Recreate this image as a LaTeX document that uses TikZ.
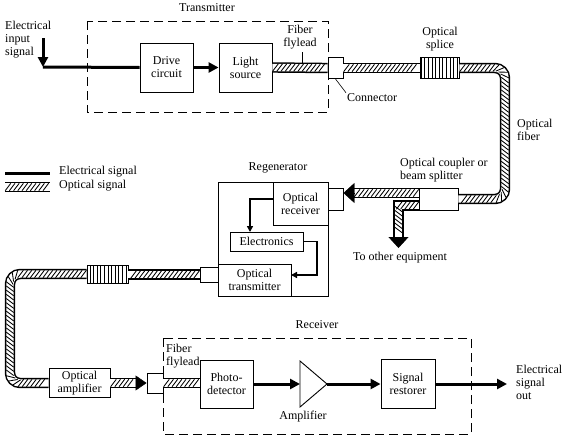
\documentclass[tikz,border=0pt]{standalone}
\usepackage{fontspec}
\setmainfont{Liberation Serif}
\usetikzlibrary{arrows.meta,decorations.markings,patterns.meta}

\begin{document}
\begin{tikzpicture}[x=1pt, y=-1pt,
	every node/.style={font=\fontsize{12}{13}\selectfont, inner sep=1pt},
	box/.style={draw=black, line width=0.9pt, fill=white, align=center},
	txt/.style={align=left, anchor=west},
	group/.style={draw=black, line width=1pt, dash pattern=on 9pt off 5pt},
	eline/.style={draw=black, line width=3pt, -{Triangle[length=10pt,width=10pt]}},
	ewire/.style={draw=black, line width=1.6pt, -{Triangle[length=6pt,width=6pt]}},
	fiber/.style={draw=black, line width=10.4pt, postaction={draw=white, line width=7.4pt},
		postaction={decorate, decoration={markings, mark=between positions 3pt and -3pt step 4.2pt with {\draw[black, line width=0.85pt] (-2.8pt,-3.7pt) -- (2.8pt,3.7pt);}}}},
	ftip/.style={draw=black, line width=0.4pt, -{Triangle[length=11pt,width=20pt]}},
	splice/.style={draw=black, line width=0.9pt, pattern={Lines[angle=90,distance=3.6pt,line width=0.9pt]}}]
	\useasboundingbox (0,0) rectangle (564,439);
	
	\draw[group] (87,21) rectangle (328,112);
	\draw[group] (163,338) rectangle (471,434);
	
	\node[box, minimum width=53pt, minimum height=49pt] (drive) at (166.5,67.5) {Drive\\circuit};
	\node[box, minimum width=53pt, minimum height=49pt] (light) at (245.5,67.5) {Light\\source};
	\node[box, minimum width=15pt, minimum height=21pt] (txconn) at (335.5,68) {};
	\node[splice, minimum width=39pt, minimum height=21pt] (splA) at (439.5,68) {};
	\node[box, minimum width=39pt, minimum height=22pt] (coupler) at (438.5,199) {};
	\node[box, minimum width=16pt, minimum height=22pt] (rxconn) at (335,199) {};
	\node[draw=black, line width=0.8pt, minimum width=110pt, minimum height=114pt] (regen) at (273,239) {};
	\node[box, minimum width=55pt, minimum height=43pt] (orx) at (300.5,203.5) {Optical\\receiver};
	\node[box, minimum width=73pt, minimum height=19pt] (elec) at (266.5,241.5) {Electronics};
	\node[box, minimum width=73pt, minimum height=32pt] (otx) at (254.5,280) {Optical\\transmitter};
	\node[box, minimum width=18pt, minimum height=15pt] (otxconn) at (209,274.5) {};
	\node[splice, minimum width=41pt, minimum height=18pt] (splB) at (107.5,274) {};
	\node[box, minimum width=61pt, minimum height=29pt] (oamp) at (79.5,383) {Optical\\amplifier};
	\node[box, minimum width=16pt, minimum height=20pt] (rxconn2) at (155,383) {};
	\node[box, minimum width=53pt, minimum height=48pt] (pd) at (226.5,384) {Photo-\\detector};
	\node[box, minimum width=54pt, minimum height=49pt] (restorer) at (408,384) {Signal\\restorer};
	
	\node (txlbl) at (207,8) {Transmitter};
	\node[txt] (inlbl) at (4,39.5) {Electrical\\input\\signal};
	\node[align=center] (flyA) at (300,37) {Fiber\\flylead};
	\node[txt] (connlbl) at (346,98) {Connector};
	\node[align=center] (spllbl) at (440,39) {Optical\\splice};
	\node[txt] (fiblbl) at (516,130) {Optical\\fiber};
	\node[txt] (cpllbl) at (399,170) {Optical coupler or\\beam splitter};
	\node (otherlbl) at (400,258) {To other equipment};
	\node[txt] (legElbl) at (58,172) {Electrical signal};
	\node[txt] (legOlbl) at (58,186) {Optical signal};
	\node (regenlbl) at (278,168) {Regenerator};
	\node (rxlbl) at (317,325) {Receiver};
	\node[txt] (flyB) at (165,356.5) {Fiber\\flylead};
	\node (amplbl) at (303,417) {Amplifier};
	\node[txt] (outlbl) at (515,382) {Electrical\\signal\\out};
	
	\coordinate (insig) at (43,38);
	\coordinate (inbend) at (43,67);
	\coordinate (fibturnA) at (505,130);
	\coordinate (cplA) at (419,193);
	\coordinate (tipA) at (354,193);
	\coordinate (cplB) at (419,205.5);
	\coordinate (brturn) at (398.5,205.5);
	\coordinate (brend) at (398.5,237);
	\coordinate (brtip) at (398.5,248);
	\coordinate (orxout) at (273,199);
	\coordinate (elecin) at (250,232);
	\coordinate (regturn) at (317,258);
	\coordinate (otxin) at (291,275);
	\coordinate (fibturnB) at (10,330);
	\coordinate (tipB) at (136,383);
	\coordinate (ampin) at (300,384);
	\coordinate (ampout) at (327,384);
	\coordinate (sigout) at (507,384);
	\coordinate (flyAtop) at (302,52);
	\coordinate (flyAend) at (302,63);
	\coordinate (legE1) at (5,173);
	\coordinate (legE2) at (50,173);
	\coordinate (legO1) at (5,187);
	\coordinate (legO2) at (50,187);
	
	\draw[line width=0.9pt, fill=white] (300,361) -- (ampout) -- (300,407) -- cycle;
	
	\draw[eline, -] (legE1) -- (legE2);
	\draw[eline] (insig) -- (inbend);
	\draw[eline, -] (inbend) -- (drive.west);
	\draw[eline] (drive.east) -- (light.west);
	\draw[eline] (pd.east) -- (ampin);
	\draw[eline] (ampout) -- (restorer.west);
	\draw[eline] (restorer.east) -- (sigout);
	\draw[ewire] (orxout) -| (elecin);
	\draw[ewire] (elec.east) -| (regturn) |- (otxin);
	
	\draw[fiber] (legO1) -- (legO2);
	\draw[fiber] (light.east) -- (txconn.west);
	\draw[fiber] (txconn.east) -- (splA.west);
	\draw[fiber, rounded corners=10pt] (splA.east) -| (fibturnA) |- (coupler.east);
	\draw[fiber] (cplA) -- (tipA);
	\draw[ftip] (tipA) -- (tipA -| rxconn.east);
	\draw[fiber] (cplB) -- (brturn) -- (brend);
	\draw[ftip] (brend) -- (brtip);
	\draw[fiber] (otxconn.west) -- (otxconn.west -| splB.east);
	\draw[fiber, rounded corners=10pt] (splB.west) -| (fibturnB) |- (oamp.west);
	\draw[fiber] (oamp.east) -- (tipB);
	\draw[ftip, -{Triangle[length=11pt,width=15pt]}] (tipB) -- (rxconn2.west);
	\draw[fiber] (rxconn2.east) -- (rxconn2.east -| pd.west);
	
	\draw[line width=0.6pt] (flyAtop) -- (flyAend);
	\draw[line width=0.6pt] (txconn.south) -- (connlbl.north west);
\end{tikzpicture}
\end{document}
